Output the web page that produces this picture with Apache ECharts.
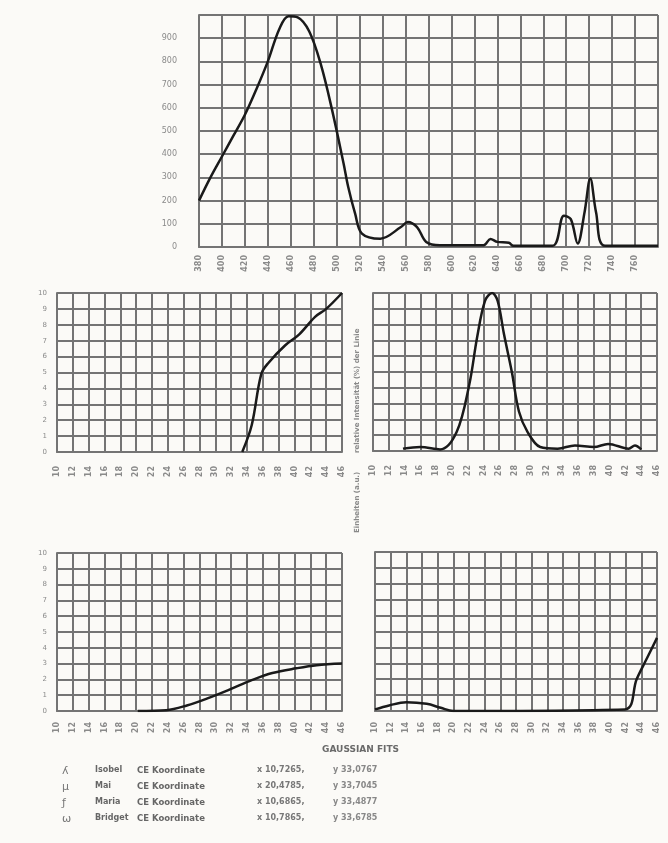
<!DOCTYPE html>
<html>
<head>
<meta charset="utf-8">
<script src="https://cdn.jsdelivr.net/npm/echarts@6/dist/echarts.min.js"></script>
<style>
html,body{margin:0;padding:0;background:#fbfaf7;}
#c{width:668px;height:843px;}
</style>
</head>
<body>
<div id="c"></div>
<script>
// ---- data ----
const topX = [0,0.5,1,1.5,2,2.5,3,3.5,3.9,4.3,4.8,5.3,5.8,6.3,6.5,6.8,7.1,7.9,8.8,9.1,9.5,9.9,10.5,12.4,12.7,13.0,13.5,13.7,15.4,15.9,16.2,16.5,16.8,17.05,17.3,17.7,20];
const topY = [200,300,390,480,570,680,800,940,995,990,930,790,590,360,260,145,58,36,86,108,86,22,8,8,35,22,18,5,5,135,120,15,150,295,150,5,5];
const topXLabels = ['380','400','420','440','460','480','500','520','540','560','580','600','620','640','660','680','700','720','740','760',''];
const topYLabels = ['0','100','200','300','400','500','600','700','800','900',''];

const mlX = [11.7,12.3,12.9,13.35,14.4,15.3,16.3,17,18];
const mlY = [0,17,49,56,67,74,85,90,100];

const mrX = [1.9,3,4.25,5.3,6.1,6.6,7.1,7.55,7.9,8.3,8.8,9.25,9.8,10.6,11.7,12.8,14,14.9,16.2,16.6,17];
const mrY = [1.5,2.5,1,12,42,72,95,100,95,74,50,25,12,2.5,1.5,3.5,2.5,4.5,1.5,3.5,1];

const blX = [5.1,6.9,8.2,9.5,11,12.3,13.6,15.1,16.4,18];
const blY = [0,0.5,3.5,8,14,19.5,24,27,29,30];

const brX = [0,0.9,2,3.3,4.2,5,15.95,16.7,17.35,18];
const brY = [1,3.5,5.5,4.5,2,0,1,20,33,46];

const smallXLabels = ['10','12','14','16','18','20','22','24','26','28','30','32','34','36','38','40','42','44','46'];
const smallYLabels = ['0','1','2','3','4','5','6','7','8','9','10'];

const legendTitle = 'GAUSSIAN FITS';
const legendSymbols = ['ʎ','μ','ƒ','ω'];
const legendNames = ['Isobel','Mai','Maria','Bridget'];
const legendKind = ['CE Koordinate','CE Koordinate','CE Koordinate','CE Koordinate'];
const legendXs = ['x 10,7265,','x 20,4785,','x 10,6865,','x 10,7865,'];
const legendYs = ['y 33,0767','y 33,7045','y 33,4877','y 33,6785'];
const sideLabel1 = 'relative Intensität (%) der Linie';
const sideLabel2 = 'Einheiten (a.u.)';

// ---- chart ----
const gridColor = '#747474';
const labelColor = '#8a8a8a';
const font = 'DejaVu Sans';

function pair(xs, ys){ return xs.map((x,i)=>[x, ys[i]]); }

const grids = [
  {left:199, top:15, width:459, height:232},
  {left:57, top:293, width:285, height:159},
  {left:373, top:293, width:284, height:158},
  {left:57, top:553, width:285, height:158},
  {left:375, top:552, width:282, height:159}
];

function xAx(i, max, labels, fs, margin){
  return {
    type:'value', gridIndex:i, min:0, max:max, interval:1,
    axisLine:{show:true, onZero:false, lineStyle:{color:gridColor, width:2}},
    axisTick:{show:false},
    splitLine:{show:true, lineStyle:{color:gridColor, width:2}},
    axisLabel:{show:true, rotate:90, fontSize:fs, fontWeight:'bold', color:labelColor, fontFamily:font, margin:margin,
      formatter:(v)=> labels[Math.round(v)] || ''}
  };
}
function yAx(i, max, interval, labels, fs, showLabels, margin){
  return {
    type:'value', gridIndex:i, min:0, max:max, interval:interval,
    axisLine:{show:true, lineStyle:{color:gridColor, width:2}},
    axisTick:{show:false},
    splitLine:{show:true, lineStyle:{color:gridColor, width:2}},
    axisLabel:{show:showLabels, fontSize:fs, color:labelColor, fontFamily:font, margin:margin,
      formatter:(v)=> labels[Math.round(v/interval)] || ''}
  };
}

const xAxes = [
  xAx(0, 20, topXLabels, 8, 8),
  xAx(1, 18, smallXLabels, 8, 14),
  xAx(2, 18, smallXLabels, 8, 14),
  xAx(3, 18, smallXLabels, 8, 11),
  xAx(4, 18, smallXLabels, 8, 11)
];
const yAxes = [
  yAx(0, 1000, 100, topYLabels, 8, true, 22),
  yAx(1, 100, 10, smallYLabels, 7, true, 10),
  yAx(2, 100, 10, smallYLabels, 7, false, 10),
  yAx(3, 100, 10, smallYLabels, 7, true, 10),
  yAx(4, 100, 10, smallYLabels, 7, false, 10)
];

function line(i, xs, ys){
  return {type:'line', xAxisIndex:i, yAxisIndex:i, data:pair(xs,ys), smooth:0.35,
    showSymbol:false, lineStyle:{color:'#1a1a1a', width:2.5}, z:5};
}

const graphics = [];
graphics.push({type:'text', left:322, top:745, style:{text:legendTitle, font:'bold 9px "DejaVu Sans"', fill:'#6a6a6a'}});
const rowsY = [766, 782, 798, 814];
for (let r=0;r<4;r++){
  const y = rowsY[r];
  graphics.push({type:'text', left:62, top:y, style:{text:legendSymbols[r], font:'11px "DejaVu Sans"', fill:'#777'}});
  graphics.push({type:'text', left:95, top:y, style:{text:legendNames[r], font:'bold 8px "DejaVu Sans"', fill:'#666'}});
  graphics.push({type:'text', left:137, top:y, style:{text:legendKind[r], font:'bold 8.5px "DejaVu Sans"', fill:'#666'}});
  graphics.push({type:'text', left:257, top:y, style:{text:legendXs[r], font:'bold 8px "DejaVu Sans"', fill:'#777'}});
  graphics.push({type:'text', left:333, top:y, style:{text:legendYs[r], font:'bold 8px "DejaVu Sans"', fill:'#888'}});
}
graphics.push({type:'text', x:354, y:453, rotation:Math.PI/2, style:{text:sideLabel1, font:'bold 7px "DejaVu Sans"', fill:'#888'}});
graphics.push({type:'text', x:354, y:533, rotation:Math.PI/2, style:{text:sideLabel2, font:'bold 7px "DejaVu Sans"', fill:'#888'}});

const chart = echarts.init(document.getElementById('c'), null, {renderer:'canvas'});
chart.setOption({
  animation:false,
  backgroundColor:'#fbfaf7',
  grid:grids,
  xAxis:xAxes,
  yAxis:yAxes,
  series:[line(0,topX,topY), line(1,mlX,mlY), line(2,mrX,mrY), line(3,blX,blY), line(4,brX,brY)],
  graphic:graphics
});
</script>
</body>
</html>
